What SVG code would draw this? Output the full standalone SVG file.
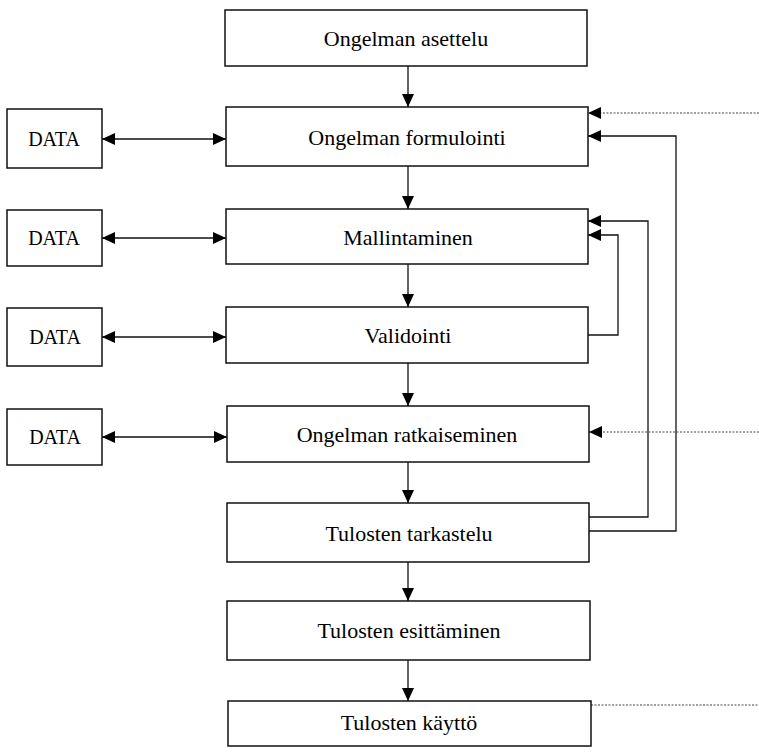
<svg xmlns="http://www.w3.org/2000/svg" width="759" height="756" viewBox="0 0 759 756">
  <defs>
    <marker id="arr" viewBox="0 0 13 12" refX="13" refY="6" markerWidth="13" markerHeight="12" markerUnits="userSpaceOnUse" orient="auto-start-reverse">
      <path d="M0,0 L13,6 L0,12 Z" fill="#000"/>
    </marker>
    <style>
      .box { fill: #fff; stroke: #111; stroke-width: 1.5; }
      .lbl { font-family: "Liberation Serif", "Times New Roman", serif; font-size: 22px; fill: #000; text-anchor: middle; }
      .dlbl { font-family: "Liberation Serif", "Times New Roman", serif; font-size: 20px; fill: #000; text-anchor: middle; }
      .ln { fill: none; stroke: #111; stroke-width: 1.3; }
      .dot { fill: none; stroke: #444; stroke-width: 1; stroke-dasharray: 2 1.5; }
    </style>
  </defs>
  <rect width="759" height="756" fill="#fff"/>

  <!-- connectors -->
  <g id="connectors">
    <!-- main flow -->
    <line class="ln" x1="408" y1="66" x2="408" y2="107" marker-end="url(#arr)"/>
    <line class="ln" x1="408" y1="166" x2="408" y2="209" marker-end="url(#arr)"/>
    <line class="ln" x1="408" y1="264" x2="408" y2="307" marker-end="url(#arr)"/>
    <line class="ln" x1="408" y1="363" x2="408" y2="406" marker-end="url(#arr)"/>
    <line class="ln" x1="408" y1="462" x2="408" y2="503" marker-end="url(#arr)"/>
    <line class="ln" x1="408" y1="562" x2="408" y2="601" marker-end="url(#arr)"/>
    <line class="ln" x1="408" y1="660" x2="408" y2="701" marker-end="url(#arr)"/>
    <!-- data links -->
    <line class="ln" x1="102" y1="139" x2="226" y2="139" marker-start="url(#arr)" marker-end="url(#arr)"/>
    <line class="ln" x1="102" y1="238" x2="226" y2="238" marker-start="url(#arr)" marker-end="url(#arr)"/>
    <line class="ln" x1="102" y1="337" x2="226" y2="337" marker-start="url(#arr)" marker-end="url(#arr)"/>
    <line class="ln" x1="102" y1="437" x2="227" y2="437" marker-start="url(#arr)" marker-end="url(#arr)"/>
    <!-- feedback loops -->
    <polyline class="ln" points="589,531 676,531 676,136 588,136" marker-end="url(#arr)"/>
    <polyline class="ln" points="589,517 648,517 648,221 588,221" marker-end="url(#arr)"/>
    <polyline class="ln" points="588,335 618,335 618,235 588,235" marker-end="url(#arr)"/>
    <!-- external inputs / output -->
    <line class="dot" x1="759" y1="113" x2="588" y2="113" marker-end="url(#arr)"/>
    <line class="dot" x1="759" y1="432" x2="589" y2="432" marker-end="url(#arr)"/>
    <line class="dot" x1="591" y1="705" x2="759" y2="705"/>
  </g>

  <!-- process steps -->
  <g id="n-asettelu">
    <rect class="box" x="225" y="10" width="362" height="56"/>
    <text class="lbl" x="406" y="46">Ongelman asettelu</text>
  </g>
  <g id="n-formulointi">
    <rect class="box" x="226" y="107" width="362" height="59"/>
    <text class="lbl" x="407" y="145">Ongelman formulointi</text>
  </g>
  <g id="n-mallintaminen">
    <rect class="box" x="226" y="209" width="362" height="55"/>
    <text class="lbl" x="408" y="245">Mallintaminen</text>
  </g>
  <g id="n-validointi">
    <rect class="box" x="226" y="307" width="362" height="56"/>
    <text class="lbl" x="408" y="343">Validointi</text>
  </g>
  <g id="n-ratkaiseminen">
    <rect class="box" x="227" y="406" width="362" height="56"/>
    <text class="lbl" x="407" y="442">Ongelman ratkaiseminen</text>
  </g>
  <g id="n-tarkastelu">
    <rect class="box" x="227" y="503" width="362" height="59"/>
    <text class="lbl" x="409" y="541">Tulosten tarkastelu</text>
  </g>
  <g id="n-esittaminen">
    <rect class="box" x="227" y="601" width="363" height="59"/>
    <text class="lbl" x="409" y="638">Tulosten esittäminen</text>
  </g>
  <g id="n-kaytto">
    <rect class="box" x="228" y="701" width="363" height="45"/>
    <text class="lbl" x="409" y="730">Tulosten käyttö</text>
  </g>

  <!-- data sources -->
  <g id="data-1">
    <rect class="box" x="7" y="109" width="95" height="59"/>
    <text class="dlbl" x="54" y="146">DATA</text>
  </g>
  <g id="data-2">
    <rect class="box" x="7" y="210" width="95" height="56"/>
    <text class="dlbl" x="54" y="245">DATA</text>
  </g>
  <g id="data-3">
    <rect class="box" x="7" y="308" width="95" height="58"/>
    <text class="dlbl" x="55" y="344">DATA</text>
  </g>
  <g id="data-4">
    <rect class="box" x="7" y="409" width="95" height="56"/>
    <text class="dlbl" x="55" y="444">DATA</text>
  </g>
</svg>
